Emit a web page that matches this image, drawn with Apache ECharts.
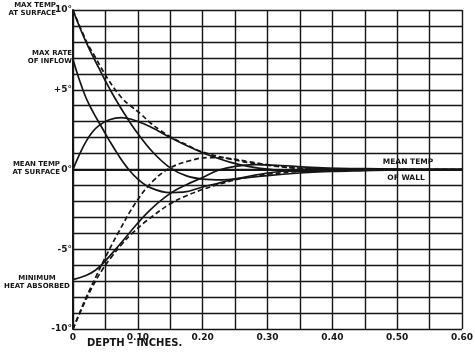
<!DOCTYPE html>
<html>
<head>
<meta charset="utf-8">
<script src="https://cdn.jsdelivr.net/npm/echarts@6/dist/echarts.min.js"></script>
<style>
  html, body { margin: 0; background: #fff; }
  #chart { width: 475px; height: 353px; }
</style>
</head>
<body>
<div id="chart"></div>
<script>
// depth (inches), temperature (degrees)
const maxTempSurface = [[0, 10], [0.01, 8.95], [0.02, 8.0], [0.03, 7.15], [0.04, 6.35], [0.052, 5.4], [0.065, 4.45], [0.08, 3.45], [0.1, 2.25], [0.124, 1.05], [0.15, 0.1], [0.175, -0.4], [0.2, -0.6], [0.23, -0.65], [0.26, -0.55], [0.3, -0.38], [0.35, -0.22], [0.4, -0.1], [0.45, -0.03], [0.5, 0], [0.6, 0]]
const maxTempDashed = [[0, 10], [0.02, 8.1], [0.035, 7.0], [0.055, 5.6], [0.075, 4.5], [0.09, 3.95], [0.104, 3.5], [0.12, 2.9], [0.135, 2.45], [0.15, 2.05], [0.175, 1.55], [0.2, 1.1], [0.243, 0.65], [0.285, 0.35], [0.346, 0.08], [0.4, 0], [0.6, 0]]
const meanTempSurface = [[0, 0], [0.01, 0.95], [0.02, 1.75], [0.03, 2.35], [0.04, 2.75], [0.055, 3.1], [0.075, 3.25], [0.09, 3.15], [0.11, 2.85], [0.13, 2.45], [0.15, 2.0], [0.175, 1.5], [0.2, 1.05], [0.22, 0.75], [0.243, 0.45], [0.27, 0.2], [0.3, 0.02], [0.35, -0.12], [0.4, -0.12], [0.45, -0.07], [0.5, -0.03], [0.6, 0]]
const maxRateInflow = [[0, 6.9], [0.01, 5.6], [0.02, 4.5], [0.031, 3.6], [0.045, 2.6], [0.057, 1.75], [0.07, 0.9], [0.083, 0.15], [0.1, -0.6], [0.12, -1.15], [0.15, -1.45], [0.17, -1.42], [0.2, -1.1], [0.225, -0.85], [0.25, -0.6], [0.3, -0.22], [0.35, 0], [0.4, 0.06], [0.45, 0.05], [0.5, 0.02], [0.6, 0]]
const minHeatAbsorbed = [[0, -6.9], [0.02, -6.65], [0.035, -6.3], [0.047, -5.85], [0.07, -4.8], [0.098, -3.45], [0.12, -2.5], [0.15, -1.5], [0.175, -0.95], [0.2, -0.5], [0.224, -0.05], [0.25, 0.2], [0.28, 0.3], [0.32, 0.25], [0.36, 0.15], [0.4, 0.07], [0.45, 0.02], [0.6, 0]]
const minTempDashed = [[0, -10], [0.01, -9.0], [0.02, -8.05], [0.035, -6.75], [0.05, -5.5], [0.07, -3.95], [0.098, -2.0], [0.124, -0.7], [0.15, 0.1], [0.18, 0.55], [0.21, 0.75], [0.24, 0.7], [0.27, 0.5], [0.3, 0.3], [0.35, 0.08], [0.4, 0], [0.6, 0]]
const lowDashed = [[0, -10], [0.015, -8.6], [0.03, -7.35], [0.045, -6.3], [0.06, -5.45], [0.075, -4.7], [0.09, -4.05], [0.114, -3.2], [0.15, -2.15], [0.175, -1.65], [0.2, -1.25], [0.25, -0.65], [0.3, -0.3], [0.35, -0.12], [0.4, -0.04], [0.6, 0]]

const yTickLabels = {'10': '10°', '5': '+5°', '0': '0°', '-5': '-5°', '-10': '-10°'}

const ink = '#151515'
const font = '"DejaVu Sans", sans-serif'

function curve (data, dashed) {
  return {
    type: 'line',
    data: data,
    showSymbol: false,
    smooth: 0.4,
    silent: true,
    lineStyle: {color: ink, width: 1.7, type: dashed ? [5, 3] : 'solid'}
  }
}

function note (x, y, text, align, size) {
  return {
    type: 'text',
    x: x,
    y: y,
    style: {
      text: text,
      fill: ink,
      font: 'bold ' + (size || 7) + 'px ' + font,
      textAlign: align,
      textVerticalAlign: 'top',
      lineHeight: 8
    }
  }
}

const chart = echarts.init(document.getElementById('chart'))
chart.setOption({
  animation: false,
  backgroundColor: '#fff',
  grid: {left: 73, right: 13, top: 10, bottom: 24, outerBoundsMode: 'none'},
  xAxis: {
    type: 'value',
    min: 0,
    max: 0.6,
    interval: 0.05,
    axisLine: {lineStyle: {color: ink, width: 2}},
    axisTick: {show: false},
    splitLine: {show: true, lineStyle: {color: ink, width: 1.4}},
    axisLabel: {
      color: ink,
      fontFamily: font,
      fontWeight: 'bold',
      fontSize: 9,
      margin: 4,
      formatter: (v) => {
        const k = Math.round(v * 100)
        if (k % 10) return ''
        return k === 0 ? '0' : (k / 100).toFixed(2)
      }
    }
  },
  yAxis: {
    type: 'value',
    min: -10,
    max: 10,
    interval: 1,
    axisLine: {show: true, lineStyle: {color: ink, width: 2}},
    axisTick: {show: false},
    splitLine: {show: true, lineStyle: {color: ink, width: 1.4}},
    axisLabel: {
      color: ink,
      fontFamily: font,
      fontWeight: 'bold',
      fontSize: 9,
      margin: 1,
      formatter: (v) => {
        const r = Math.round(v)
        return Math.abs(v - r) < 1e-6 && yTickLabels[String(r)] ? yTickLabels[String(r)] : ''
      }
    }
  },
  graphic: [
    note(56, 1, 'MAX TEMP\nAT SURFACE', 'right'),
    note(72, 49, 'MAX RATE\nOF INFLOW', 'right'),
    note(60, 160, 'MEAN TEMP\nAT SURFACE', 'right'),
    note(37, 274, 'MINIMUM\nHEAT ABSORBED', 'center'),
    note(408, 158, 'MEAN TEMP', 'center', 7.5),
    note(406, 174, 'OF WALL', 'center', 7.5),
    {
      type: 'text',
      x: 87,
      y: 338,
      style: {text: 'DEPTH – INCHES.', fill: ink, font: 'bold 10px ' + font}
    }
  ],
  series: [
    curve(maxTempSurface, false),
    curve(maxTempDashed, true),
    curve(meanTempSurface, false),
    curve(maxRateInflow, false),
    curve(minHeatAbsorbed, false),
    curve(minTempDashed, true),
    curve(lowDashed, true)
  ]
})
</script>
</body>
</html>
